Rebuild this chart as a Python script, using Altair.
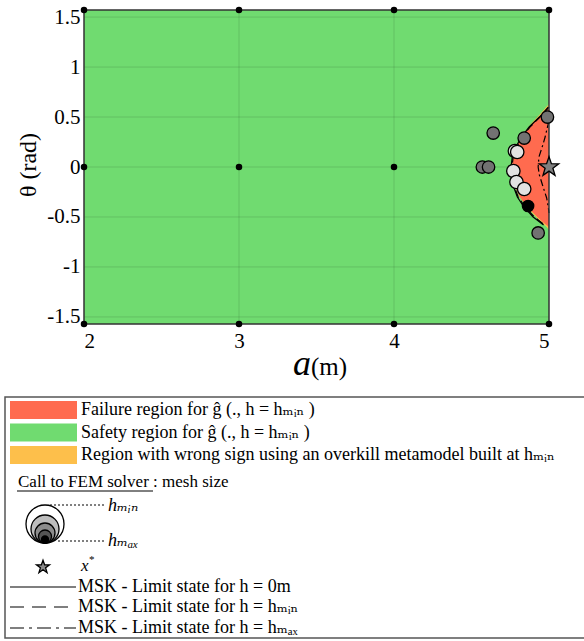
import numpy as np
import pandas as pd
import altair as alt

PI2 = np.pi / 2

# ---------------- data ----------------
x_ticks = [2, 3, 4, 5]
y_ticks = [-1.5, -1, -0.5, 0, 0.5, 1, 1.5]

# initial design of experiments (black dots)
doe_a = [2, 3, 4, 5, 2, 3, 4, 5, 2, 3, 4]
doe_theta = [PI2, PI2, PI2, PI2, -PI2, -PI2, -PI2, -PI2, 0, 0, 0]

# failure region boundary for g_hat(., h = h_min)
fail_theta = [0.60, 0.55, 0.50, 0.45, 0.40, 0.35, 0.30, 0.25, 0.20, 0.15, 0.10, 0.05, 0.00,
              -0.05, -0.10, -0.15, -0.20, -0.25, -0.30, -0.35, -0.40, -0.45, -0.50, -0.55, -0.60]
fail_a = [5.000, 4.970, 4.940, 4.905, 4.875, 4.845, 4.825, 4.805, 4.790, 4.777, 4.768, 4.763, 4.761,
          4.762, 4.766, 4.772, 4.782, 4.795, 4.812, 4.835, 4.862, 4.892, 4.925, 4.960, 5.000]

# region with wrong sign (overkill metamodel)
wrong_theta = [0.63, 0.60, 0.55, 0.50, 0.45, 0.40, 0.30, 0.00, -0.30, -0.40, -0.45, -0.50, -0.55, -0.60, -0.63]
wrong_a = [5.000, 4.982, 4.955, 4.926, 4.895, 4.868, 4.823, 4.761, 4.810, 4.858, 4.886, 4.917, 4.950, 4.985, 5.000]

# MSK limit states
ls0_theta = [0.60, 0.50, 0.40, 0.30, 0.20, 0.10, 0.00, -0.10, -0.20, -0.30, -0.40, -0.50, -0.58]
ls0_a = [4.995, 4.938, 4.872, 4.822, 4.786, 4.763, 4.755, 4.759, 4.772, 4.796, 4.838, 4.898, 4.965]
lsmin_theta = [0.60, 0.50, 0.40, 0.30, 0.20, 0.10, 0.00, -0.10, -0.20, -0.30, -0.40, -0.50, -0.58]
lsmin_a = [5.000, 4.942, 4.877, 4.827, 4.792, 4.769, 4.761, 4.764, 4.777, 4.801, 4.845, 4.905, 4.972]
lsmax_theta = [0.46, 0.40, 0.30, 0.22, 0.10, 0.00, -0.08, -0.18, -0.31, -0.40, -0.46]
lsmax_a = [5.000, 4.990, 4.975, 4.960, 4.935, 4.930, 4.938, 4.958, 4.985, 4.995, 5.000]

# calls to FEM solver (level 1 = h_min ... level 5 = h_max)
pt_a = [4.57, 4.61, 4.64, 4.99, 4.84, 4.78, 4.795, 4.77, 4.79, 4.84, 4.865, 4.93]
pt_theta = [0.00, 0.00, 0.34, 0.50, 0.29, 0.16, 0.15, -0.04, -0.15, -0.22, -0.39, -0.66]
pt_level = [3, 3, 3, 3, 3, 1, 1, 1, 1, 1, 5, 3]

star_a = [5.0]
star_theta = [0.0]

levels = [1, 2, 3, 4, 5]
level_colors = ["#e2e2e2", "#b4b4b4", "#727272", "#4a4a4a", "#000000"]
level_sizes = [180, 130, 100, 70, 48]

legend_region_labels = [
    "Failure region for ĝ (., h = hₘᵢₙ )",
    "Safety region for ĝ (., h = hₘᵢₙ )",
    "Region with wrong sign using an overkill metamodel built at hₘᵢₙ",
]
legend_line_labels = [
    "MSK - Limit state for h = 0m",
    "MSK - Limit state for h = hₘᵢₙ",
    "MSK - Limit state for h = hₘₐₓ",
]

# ---------------- styles ----------------
GREEN = "#70db70"
RED = "#ff6b4f"
ORANGE = "#fdbf4b"
FONT = "'Liberation Serif', 'Times New Roman', 'DejaVu Serif', serif"
STAR = ("M0,-1L0.235,-0.324L0.951,-0.309L0.380,0.124L0.588,0.809L0,0.4"
        "L-0.588,0.809L-0.380,0.124L-0.951,-0.309L-0.235,-0.324Z")
W, H = 584, 641
PX_L, PX_R, PX_T, PX_B = 84, 549, 10, 324
LFS = 18  # legend font size

xs = alt.Scale(domain=[2, 5], range=[PX_L, PX_R], nice=False, zero=False)
ys = alt.Scale(domain=[-PI2, PI2], range=[PX_B, PX_T], nice=False, zero=False)

x_axis = alt.Axis(values=x_ticks, grid=False, ticks=False, domain=False, title=None,
                  labelFont=FONT, labelFontSize=21, labelColor="black", labelPadding=6,
                  offset=-(H - PX_B), labelExpr="'' + datum.value")
y_axis = alt.Axis(values=y_ticks, grid=False, ticks=False, domain=False, title=None,
                  labelFont=FONT, labelFontSize=21, labelColor="black", labelPadding=4,
                  offset=-PX_L, labelExpr="'' + datum.value")


def X(f):
    return alt.X(f, type="quantitative", scale=xs, axis=x_axis)


def Y(f):
    return alt.Y(f, type="quantitative", scale=ys, axis=y_axis)


one = pd.DataFrame({"k": [0]})

layers = []

# safety region background
bg = pd.DataFrame({"a0": [2], "a1": [5], "t0": [-PI2], "t1": [PI2]})
layers.append(alt.Chart(bg).mark_rect(fill=GREEN).encode(
    x=X("a0"), x2="a1", y=Y("t0"), y2="t1"))

# gridlines
gx = pd.DataFrame({"a": [3, 4], "t0": -PI2, "t1": PI2})
layers.append(alt.Chart(gx).mark_rule(color="#000000", strokeOpacity=0.12, strokeWidth=1).encode(
    x=X("a"), y=Y("t0"), y2="t1"))
gy = pd.DataFrame({"t": y_ticks, "a0": 2, "a1": 5})
layers.append(alt.Chart(gy).mark_rule(color="#000000", strokeOpacity=0.12, strokeWidth=1).encode(
    y=Y("t"), x=X("a0"), x2="a1"))

# wrong-sign region and failure region
wr = pd.DataFrame({"t": wrong_theta, "a": wrong_a, "a1": 5})
layers.append(alt.Chart(wr).mark_area(orient="horizontal", fill=ORANGE).encode(
    y=Y("t"), x=X("a"), x2="a1"))
fr = pd.DataFrame({"t": fail_theta, "a": fail_a, "a1": 5})
layers.append(alt.Chart(fr).mark_area(orient="horizontal", fill=RED).encode(
    y=Y("t"), x=X("a"), x2="a1"))


# limit states
def ls_layer(th, aa, dash):
    d = pd.DataFrame({"t": th, "a": aa, "i": list(range(len(th)))})
    kw = dict(color="black", strokeWidth=1.2)
    if dash:
        kw["strokeDash"] = dash
    return alt.Chart(d).mark_line(**kw).encode(x=X("a"), y=Y("t"), order="i:Q")


layers.append(ls_layer(ls0_theta, ls0_a, None))
layers.append(ls_layer(lsmin_theta, lsmin_a, [8, 4]))
layers.append(ls_layer(lsmax_theta, lsmax_a, [7, 3, 2, 3]))

# plot frame
layers.append(alt.Chart(bg).mark_rect(fillOpacity=0, stroke="#333333", strokeWidth=1.5).encode(
    x=X("a0"), x2="a1", y=Y("t0"), y2="t1"))

# calls to FEM solver
pts = pd.DataFrame({"a": pt_a, "t": pt_theta, "level": pt_level})
layers.append(alt.Chart(pts).mark_point(filled=True, stroke="black", strokeWidth=1.3, opacity=1).encode(
    x=X("a"), y=Y("t"),
    fill=alt.Fill("level:O", scale=alt.Scale(domain=levels, range=level_colors), legend=None),
    size=alt.Size("level:O", scale=alt.Scale(domain=levels, range=level_sizes), legend=None)))

# DOE points
doe = pd.DataFrame({"a": doe_a, "t": doe_theta})
layers.append(alt.Chart(doe).mark_point(filled=True, color="black", size=42, opacity=1).encode(
    x=X("a"), y=Y("t")))

# x*
st = pd.DataFrame({"a": star_a, "t": star_theta})
layers.append(alt.Chart(st).mark_point(shape=STAR, filled=True, fill="#7f7f7f", stroke="black",
                                        strokeWidth=1.3, size=420, opacity=1).encode(
    x=X("a"), y=Y("t")))


# texts
def txt(x, y, s, size=LFS, style="normal", align="left", angle=0, baseline="middle"):
    kw = dict(font=FONT, fontSize=size, fontStyle=style, align=align, baseline=baseline, color="black")
    if angle:
        kw["angle"] = angle
    return alt.Chart(one).mark_text(**kw).encode(x=alt.value(x), y=alt.value(y), text=alt.value(s))


layers.append(txt(29, 165, "θ (rad)", size=24, align="center", angle=270))
layers.append(txt(311, 375, "a", size=36, style="italic", align="right", baseline="alphabetic"))
layers.append(txt(311, 375, "(m)", size=25, baseline="alphabetic"))


# ---------------- legend ----------------
def prect(x0, x1, y0, y1, **kw):
    return alt.Chart(one).mark_rect(**kw).encode(
        x=alt.value(x0), x2=alt.value(x1), y=alt.value(y0), y2=alt.value(y1))


def prule(x0, x1, y, **kw):
    return alt.Chart(one).mark_rule(**kw).encode(x=alt.value(x0), x2=alt.value(x1), y=alt.value(y))


layers.append(prect(5, 760, 397, 638, fill="white", stroke="#555555", strokeWidth=1.5))
sw_rows = [410, 432.5, 455]
for yc, col, lab in zip(sw_rows, [RED, GREEN, ORANGE], legend_region_labels):
    layers.append(prect(10, 77, yc - 9, yc + 9, fill=col))
    layers.append(txt(81, yc, lab))

layers.append(txt(18, 482, "Call to FEM solver : mesh size", size=17))
layers.append(prule(17, 153, 491, color="black", strokeWidth=1))

# nested circles
circ_d = [38, 28, 20, 13, 7]
for dia, col in zip(circ_d, ["#ffffff", "#bdbdbd", "#8c8c8c", "#555555", "#000000"]):
    layers.append(alt.Chart(one).mark_point(filled=True, fill=col, stroke="black", strokeWidth=1.3,
                                            size=dia * dia, opacity=1).encode(
        x=alt.value(45), y=alt.value(543 - dia / 2)))
layers.append(prule(50, 104, 505, color="black", strokeWidth=1, strokeDash=[2, 2]))
layers.append(prule(58, 104, 541, color="black", strokeWidth=1, strokeDash=[2, 2]))
layers.append(txt(108, 506, "hₘᵢₙ", size=18, style="italic"))
layers.append(txt(108, 541, "hₘₐₓ", size=18, style="italic"))

layers.append(alt.Chart(one).mark_point(shape=STAR, filled=True, fill="#8a8a8a", stroke="black",
                                        strokeWidth=1.3, size=190, opacity=1).encode(
    x=alt.value(43), y=alt.value(567)))
layers.append(txt(81, 566, "x", size=17, style="italic"))
layers.append(txt(89, 560, "*", size=11))

line_rows = [587, 607, 628]
for yc, dash, lab in zip(line_rows, [None, [14, 8], [14, 5, 3, 5]], legend_line_labels):
    kw = dict(color="black", strokeWidth=1.2)
    if dash:
        kw["strokeDash"] = dash
    layers.append(prule(10, 76, yc, **kw))
    layers.append(txt(78, yc, lab))

chart = alt.layer(*layers).properties(
    width=W, height=H, padding=0,
    autosize=alt.AutoSizeParams(type="none"),
).configure_view(stroke=None)

chart.save("out.html", embed_options={"renderer": "svg", "actions": False})
